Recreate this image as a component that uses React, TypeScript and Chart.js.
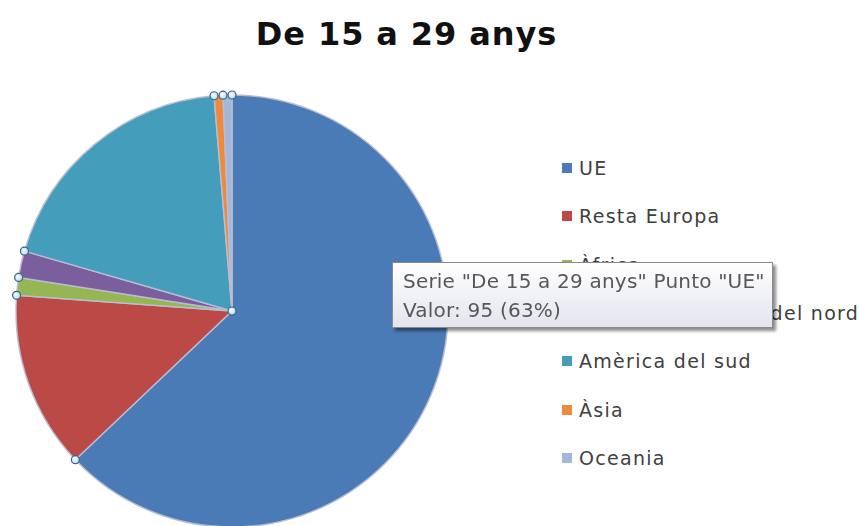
import React, { useEffect, useRef } from 'react';
import { Chart, registerables } from 'chart.js';

Chart.register(...registerables);

const chartTitle = 'De 15 a 29 anys';
const seriesName = 'De 15 a 29 anys';
const categories = ['UE', 'Resta Europa', 'Àfrica', 'Amèrica central i del nord', 'Amèrica del sud', 'Àsia', 'Oceania'];
const values = [95, 20, 2, 3, 29, 1, 1];
const sliceColors = ['#4A7BB6', '#BB4A47', '#95B653', '#7A5E9D', '#449DBA', '#EE8A3C', '#A3B6DC'];
const hoveredIndex = 0;

const FONT = '"DejaVu Sans", "Liberation Sans", sans-serif';

const handlesPlugin = {
  id: 'selectionHandles',
  afterDatasetsDraw(chart: any) {
    const meta = chart.getDatasetMeta(0);
    const ctx = chart.ctx as CanvasRenderingContext2D;
    const pts: [number, number][] = [];
    let cx = 0;
    let cy = 0;
    meta.data.forEach((arc: any) => {
      const p = arc.getProps(['x', 'y', 'startAngle', 'outerRadius'], true);
      cx = p.x;
      cy = p.y;
      pts.push([p.x + Math.cos(p.startAngle) * p.outerRadius, p.y + Math.sin(p.startAngle) * p.outerRadius]);
    });
    pts.push([cx, cy]);
    ctx.save();
    pts.forEach(([x, y]) => {
      const g = ctx.createRadialGradient(x - 1, y - 1, 0.5, x, y, 4.5);
      g.addColorStop(0, '#ffffff');
      g.addColorStop(1, '#9fd3ee');
      ctx.beginPath();
      ctx.arc(x, y, 4, 0, Math.PI * 2);
      ctx.fillStyle = g;
      ctx.fill();
      ctx.lineWidth = 1.2;
      ctx.strokeStyle = '#3f6483';
      ctx.stroke();
    });
    ctx.restore();
  },
};

export default function App() {
  const canvasRef = useRef<HTMLCanvasElement | null>(null);

  useEffect(() => {
    if (!canvasRef.current) return;
    const chart = new Chart(canvasRef.current, {
      type: 'pie',
      data: {
        labels: categories,
        datasets: [
          {
            label: seriesName,
            data: values,
            backgroundColor: sliceColors,
            borderColor: 'rgba(185,190,210,0.95)',
            borderWidth: 1.5,
            radius: 216,
          },
        ],
      },
      options: {
        responsive: false,
        animation: false,
        events: [],
        layout: { padding: 0 },
        plugins: {
          legend: { display: false },
          title: { display: false },
          tooltip: { enabled: false },
        },
      },
      plugins: [handlesPlugin],
    });
    return () => chart.destroy();
  }, []);

  const total = values.reduce((a, b) => a + b, 0);
  const pct = Math.round((values[hoveredIndex] / total) * 100);

  return (
    <div
      style={{
        position: 'fixed',
        left: 0,
        top: 0,
        width: 859,
        height: 526,
        overflow: 'hidden',
        background: '#ffffff',
      }}
    >
      <div
        style={{
          position: 'absolute',
          left: 0,
          top: 14,
          width: 813,
          textAlign: 'center',
          fontFamily: FONT,
          fontWeight: 'bold',
          fontSize: 32,
          letterSpacing: '0.9px',
          lineHeight: '40px',
          color: '#111111',
          whiteSpace: 'nowrap',
        }}
      >
        {chartTitle}
      </div>

      <canvas
        ref={canvasRef}
        width={464}
        height={460}
        style={{ position: 'absolute', left: 0, top: 81, width: 464, height: 460 }}
      />

      <div style={{ position: 'absolute', left: 562, top: 144 }}>
        {categories.map((c, i) => (
          <div
            key={c}
            style={{
              height: 48.33,
              display: 'flex',
              alignItems: 'center',
              fontFamily: FONT,
              fontSize: 19,
              letterSpacing: '1.3px',
              color: '#404040',
              whiteSpace: 'nowrap',
            }}
          >
            <span
              style={{
                display: 'inline-block',
                width: 10,
                height: 10,
                background: sliceColors[i],
                marginRight: 7,
              }}
            />
            {c}
          </div>
        ))}
      </div>

      <div
        style={{
          position: 'absolute',
          left: 392,
          top: 262,
          width: 381,
          height: 66,
          boxSizing: 'border-box',
          border: '1px solid #8a8a8a',
          background: 'linear-gradient(#ffffff, #e3e4ee)',
          boxShadow: '3px 3px 3px rgba(0,0,0,0.45)',
          padding: '4px 0 0 10px',
          fontFamily: FONT,
          fontSize: 20,
          letterSpacing: '0.2px',
          lineHeight: '29px',
          color: '#575757',
          whiteSpace: 'nowrap',
        }}
      >
        <div>{`Serie "${seriesName}" Punto "${categories[hoveredIndex]}"`}</div>
        <div>{`Valor: ${values[hoveredIndex]} (${pct}%)`}</div>
      </div>
    </div>
  );
}
